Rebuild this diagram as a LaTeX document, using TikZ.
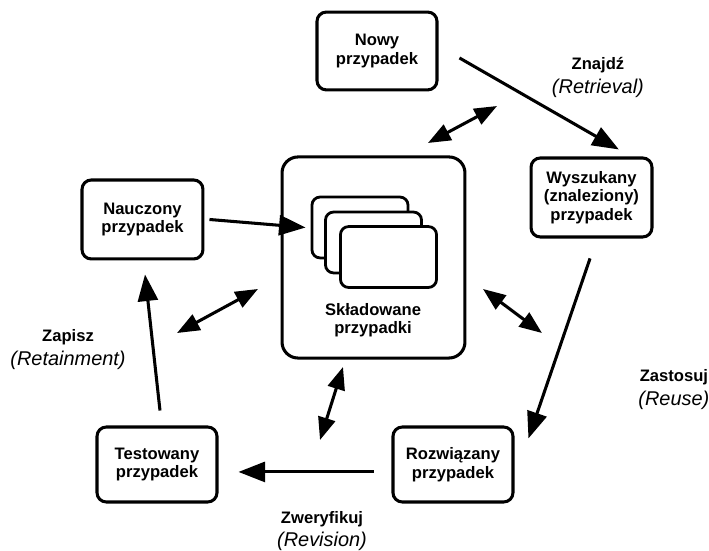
\documentclass[tikz,border=0pt]{standalone}
\usepackage{fontspec}
\setmainfont{Liberation Sans}
\usetikzlibrary{arrows.meta, positioning}

\begin{document}
\begin{tikzpicture}[
  box/.style={draw=black, line width=2.3pt, rounded corners=7pt, minimum width=3.175cm, minimum height=2.06cm, align=center, inner sep=2pt, font=\fontsize{12.5}{14}\selectfont\bfseries},
  store/.style={draw=black, line width=2.3pt, rounded corners=12pt, minimum width=4.84cm, minimum height=5.32cm},
  card/.style={draw=black, line width=2.1pt, rounded corners=6pt, minimum width=2.54cm, minimum height=1.61cm, fill=white},
  lbl/.style={align=center, font=\fontsize{15}{18}\selectfont},
  arr/.style={-{Triangle[length=20pt, width=15pt]}, line width=2.3pt},
  darr/.style={{Triangle[length=17pt, width=13pt]}-{Triangle[length=17pt, width=13pt]}, line width=2.3pt},
]
\useasboundingbox (0,0) rectangle (18.759,-14.578);

% Case nodes
\node[box] (nowy) at (9.975, -1.349) {Nowy\\przypadek};
\node[box, minimum width=3.2cm, minimum height=2.09cm] (wysz) at (15.65, -5.225) {Wyszukany\\(znaleziony)\\przypadek};
\node[box, minimum width=3.2cm, minimum height=2.09cm] (nauc) at (3.77, -5.807) {Nauczony\\przypadek};
\node[box, minimum height=1.984cm] (test) at (4.154, -12.29) {Testowany\\przypadek};
\node[box, minimum height=1.984cm] (rozw) at (11.985, -12.29) {Rozwiązany\\przypadek};

% Case base
\node[store] (store) at (9.882, -6.813) {};
\node[card] (card1) at (9.525, -6.019) {};
\node[card] (card2) at (9.882, -6.416) {};
\node[card] (card3) at (10.279, -6.8) {};
\node[align=center, font=\fontsize{12.5}{14}\selectfont\bfseries] (storetxt) at (9.869, -8.467) {Składowane\\przypadki};

% Step labels
\node[lbl] (retr) at (15.82, -2.04) {\textbf{\fontsize{12.5}{18}\selectfont Znajdź}\\\textit{(Retrieval)}};
\node[lbl] (reuse) at (17.83, -10.305) {\textbf{\fontsize{12.5}{18}\selectfont Zastosuj}\\\textit{(Reuse)}};
\node[lbl] (revis) at (8.52, -14.05) {\textbf{\fontsize{12.5}{18}\selectfont Zweryfikuj}\\\textit{(Revision)}};
\node[lbl] (retain) at (1.8, -9.26) {\textbf{\fontsize{12.5}{18}\selectfont Zapisz}\\\textit{(Retainment)}};

% Cycle arrows
\draw[arr] ([xshift=15.75pt, yshift=-5.25pt]nowy.east) -- ([xshift=20.6pt, yshift=5.25pt]wysz.north);
\draw[arr] ([xshift=-1.1pt, yshift=-15pt]wysz.south) -- ([xshift=10.5pt, yshift=-9.75pt]rozw.north east);
\draw[arr] ([xshift=-13.5pt, yshift=-5.6pt]rozw.west) -- ([xshift=15pt, yshift=-5.6pt]test.east);
\draw[arr] ([xshift=2.25pt, yshift=11.25pt]test.north) -- ([xshift=1.9pt, yshift=-10.5pt]nauc.south);
\draw[arr] ([xshift=3.75pt]nauc.east) -- ([xshift=-3.75pt]card1.west);

% Links to the case base
\coordinate (d1a) at (11.324, -3.783);
\coordinate (d1b) at (13.15, -2.805);
\coordinate (d2a) at (4.683, -8.811);
\coordinate (d2b) at (6.826, -7.646);
\coordinate (d3a) at (12.779, -7.646);
\coordinate (d3b) at (14.34, -8.811);
\coordinate (d4a) at (9.075, -9.71);
\coordinate (d4b) at (8.467, -11.642);
\draw[darr] (d1a) -- (d1b);
\draw[darr] (d2a) -- (d2b);
\draw[darr] (d3a) -- (d3b);
\draw[darr] (d4a) -- (d4b);

\end{tikzpicture}
\end{document}
